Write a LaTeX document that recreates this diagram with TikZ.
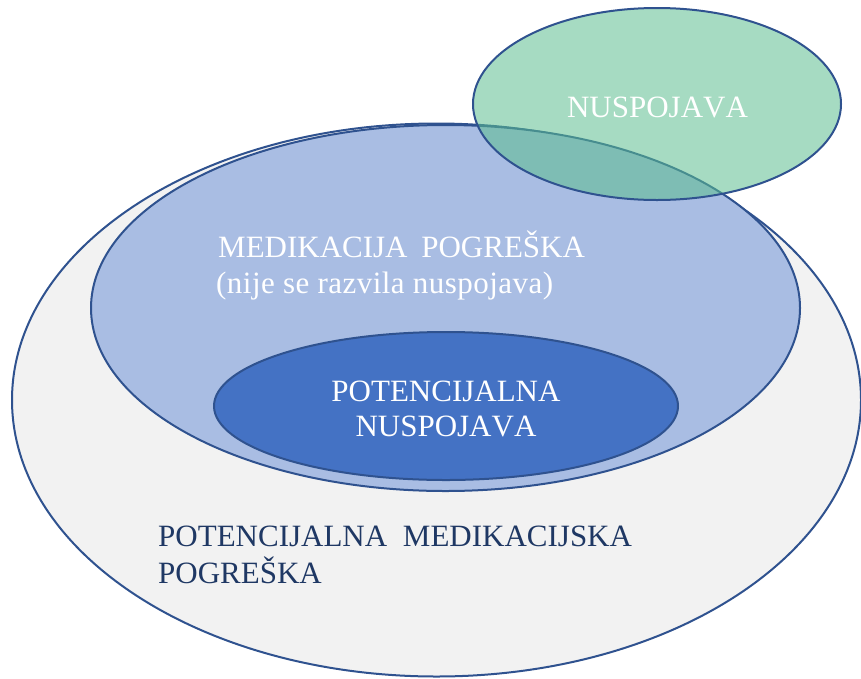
\documentclass[tikz,border=0pt]{standalone}
\usepackage{fontspec}
\setmainfont[Kerning=Off]{Liberation Serif}
\definecolor{edge}{HTML}{2F528F}
\definecolor{outerfill}{HTML}{F2F2F2}
\definecolor{midfill}{HTML}{A9BDE3}
\definecolor{innerfill}{HTML}{4472C4}
\definecolor{greenfill}{RGB}{92,190,143}
\definecolor{navy}{HTML}{1F3864}
\tikzset{
  setshape/.style={draw=edge, line width=2pt},
  lbl/.style={inner sep=0pt, anchor=base west, font=\fontsize{31}{36}\selectfont},
  lblc/.style={inner sep=0pt, anchor=base, font=\fontsize{31}{36}\selectfont},
}
\begin{document}
\begin{tikzpicture}[x=1pt,y=-1pt]
\useasboundingbox (0,0) rectangle (861,678);
\begin{scope}
\clip (0,0) rectangle (861,678);
% outer set
\draw[setshape, fill=outerfill] (436.5,400) ellipse [x radius=424.5, y radius=276.5];
% medication error
\draw[setshape, fill=midfill] (445.5,308) ellipse [x radius=354.5, y radius=183];
% potential adverse effect
\draw[setshape, fill=innerfill] (446,406) ellipse [x radius=232, y radius=74];
% adverse effect (transparent)
\fill[greenfill, fill opacity=0.55] (657,104) ellipse [x radius=184, y radius=96];
\draw[setshape] (657,104) ellipse [x radius=184, y radius=96];
\end{scope}
% labels
\node[lblc, text=white] (nusp) at (657.5,117) {NUSPOJAVA};
\node[lbl, text=white] (med1) at (218,257) {MEDIKACIJA\hspace*{6pt} POGREŠKA};
\node[lbl, text=white] (med2) at (216,293) {\addfontfeatures{LetterSpace=1.5}(nije se razvila nuspojava)};
\node[lblc, text=white] (pot1) at (446,401) {POTENCIJALNA};
\node[lblc, text=white] (pot2) at (446,436) {NUSPOJAVA};
\node[lbl, text=navy] (pmp1) at (158,546) {POTENCIJALNA\hspace*{8pt} MEDIKACIJSKA};
\node[lbl, text=navy] (pmp2) at (158,583) {POGREŠKA};
\end{tikzpicture}
\end{document}
